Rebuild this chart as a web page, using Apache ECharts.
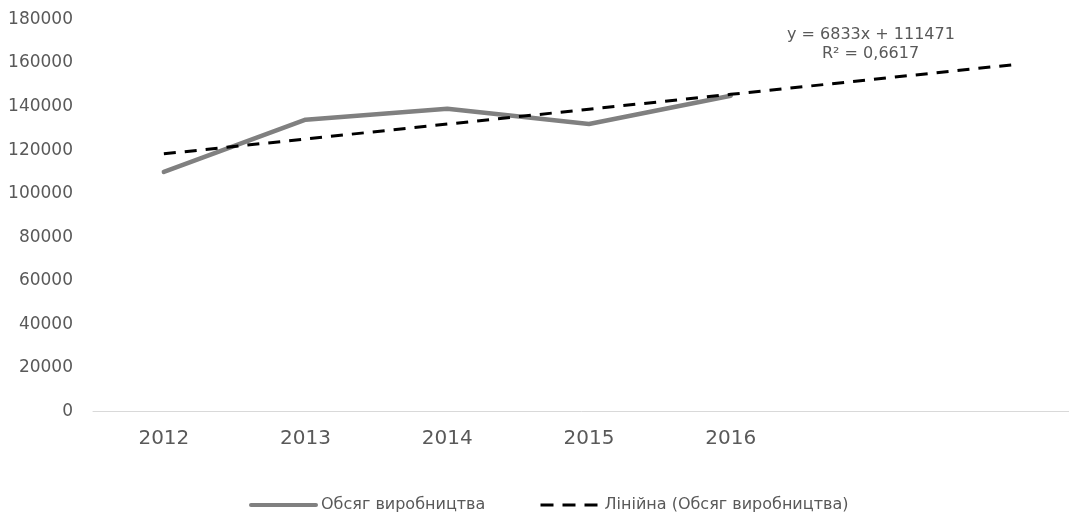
<!DOCTYPE html>
<html>
<head>
<meta charset="utf-8">
<script src="https://cdn.jsdelivr.net/npm/echarts@6/dist/echarts.min.js"></script>
<style>
html,body{margin:0;padding:0;background:#fff;}
#c{width:1069px;height:513px;}
</style>
</head>
<body>
<div id="c"></div>
<script>
var categories = ['2012', '2013', '2014', '2015', '2016', '', ''];
var production = [110000, 134000, 139000, 132000, 145000];
var trend = [118304, 125137, 131970, 138803, 145636, 152469, 159302];
var seriesNames = ['Обсяг виробництва', 'Лінійна (Обсяг виробництва)'];
var equationLines = ['y = 6833x + 111471', 'R² = 0,6617'];

var FONT = 'DejaVu Sans';
var chart = echarts.init(document.getElementById('c'), null, {renderer: 'canvas'});
chart.setOption({
  animation: false,
  backgroundColor: '#ffffff',
  grid: {left: 93, width: 992, top: 19.5, height: 392, containLabel: false, outerBoundsMode: 'none'},
  xAxis: {
    type: 'category',
    data: categories,
    boundaryGap: true,
    axisLine: {show: true, lineStyle: {color: '#d9d9d9', width: 1}},
    axisTick: {show: false},
    axisLabel: {color: '#595959', fontFamily: FONT, fontSize: 20, margin: 17}
  },
  yAxis: {
    type: 'value',
    min: 0, max: 180000, interval: 20000,
    axisLine: {show: false},
    axisTick: {show: false},
    splitLine: {show: false},
    axisLabel: {color: '#595959', fontFamily: FONT, fontSize: 17, margin: 20,
      formatter: function (v) { return String(v); }}
  },
  legend: [
    {
      data: [seriesNames[0]],
      left: 244, top: 492,
      itemWidth: 65, itemHeight: 10, itemGap: 0,
      itemStyle: {opacity: 0},
      lineStyle: {width: 4},
      textStyle: {color: '#595959', fontFamily: FONT, fontSize: 16}
    },
    {
      data: [seriesNames[1]],
      left: 534, top: 492,
      itemWidth: 59, itemHeight: 10, itemGap: 0,
      itemStyle: {opacity: 0},
      lineStyle: {width: 3, type: [13, 9]},
      textStyle: {color: '#595959', fontFamily: FONT, fontSize: 16}
    }
  ],
  series: [
    {
      name: seriesNames[0],
      type: 'line',
      data: production,
      symbol: 'none',
      lineStyle: {color: '#808080', width: 4.5, cap: 'round'},
      itemStyle: {color: '#808080'},
      z: 2
    },
    {
      name: seriesNames[1],
      type: 'line',
      data: trend,
      symbol: 'none',
      lineStyle: {color: '#000000', width: 3, type: [12, 9]},
      itemStyle: {color: '#000000'},
      z: 3
    }
  ],
  graphic: [
    {type: 'text', left: 787, top: 27, style: {text: equationLines[0], fill: '#595959', font: '16px "DejaVu Sans"'}},
    {type: 'text', left: 822, top: 46, style: {text: equationLines[1], fill: '#595959', font: '16px "DejaVu Sans"'}}
  ]
});
</script>
</body>
</html>
